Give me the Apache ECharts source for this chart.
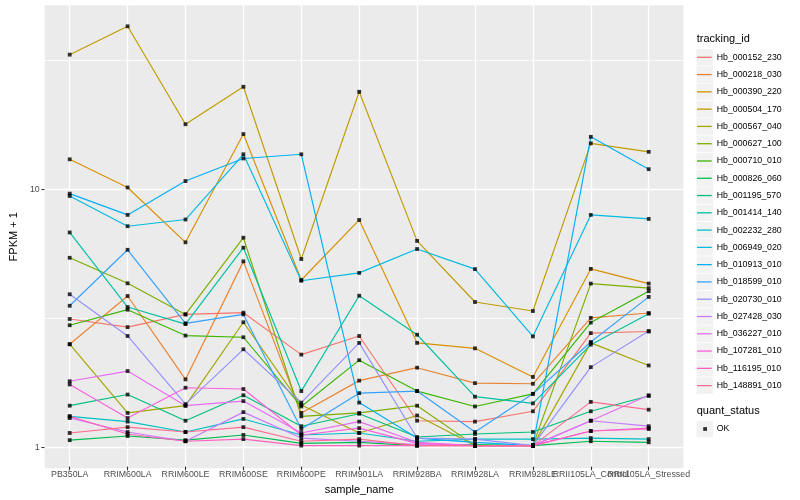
<!DOCTYPE html>
<html><head><meta charset="utf-8">
<script src="https://cdn.jsdelivr.net/npm/echarts@6/dist/echarts.min.js"></script>
<style>html,body{margin:0;padding:0;background:#fff}#c{width:800px;height:500px}</style>
</head><body><div id="c"></div>
<script>
const categories = ['PB350LA','RRIM600LA','RRIM600LE','RRIM600SE','RRIM600PE','RRIM901LA','RRIM928BA','RRIM928LA','RRIM928LE','RRII105LA_Control','RRII105LA_Stressed'];
const trackingIds = ['Hb_000152_230','Hb_000218_030','Hb_000390_220','Hb_000504_170','Hb_000567_040','Hb_000627_100','Hb_000710_010','Hb_000826_060','Hb_001195_570','Hb_001414_140','Hb_002232_280','Hb_006949_020','Hb_010913_010','Hb_018599_010','Hb_020730_010','Hb_027428_030','Hb_036227_010','Hb_107281_010','Hb_116195_010','Hb_148891_010'];
const yTickLabels = [1, 10];

const Hb_000152_230 = [3.11, 2.89, 3.24, 3.29, 2.26, 2.67, 1.25, 1.24, 1.36, 2.74, 2.78];
const Hb_000218_030 = [2.48, 3.82, 1.81, 5.21, 1.34, 1.79, 2.01, 1.75, 1.74, 3.14, 3.28];
const Hb_000390_220 = [13.0, 10.1, 6.18, 16.3, 4.41, 7.55, 2.51, 2.39, 1.85, 4.87, 4.27];
const Hb_000504_170 = [33.2, 42.8, 17.8, 24.9, 5.32, 23.8, 6.26, 3.62, 3.34, 15.0, 13.9];
const Hb_000567_040 = [2.48, 1.34, 1.43, 3.02, 1.44, 1.12, 1.31, 1.0, 1.0, 2.51, 2.05];
const Hb_000627_100 = [5.38, 4.28, 3.24, 6.44, 1.30, 1.34, 1.43, 1.0, 1.0, 4.27, 4.10];
const Hb_000710_010 = [2.94, 3.38, 2.68, 2.64, 1.42, 2.15, 1.63, 1.42, 1.59, 3.01, 3.99];
const Hb_000826_060 = [1.05, 1.09, 1.05, 1.10, 1.02, 1.03, 1.0, 1.01, 1.0, 1.04, 1.03];
const Hb_001195_570 = [1.43, 1.58, 1.25, 1.57, 1.19, 1.33, 1.08, 1.11, 1.13, 1.36, 1.56];
const Hb_001414_140 = [6.75, 3.46, 2.97, 5.89, 1.63, 3.83, 2.70, 1.55, 1.46, 2.47, 3.26];
const Hb_002232_280 = [1.30, 1.24, 1.13, 1.27, 1.10, 1.12, 1.04, 1.06, 1.06, 1.07, 1.06];
const Hb_006949_020 = [9.36, 7.14, 7.58, 13.6, 4.38, 4.70, 5.82, 4.86, 2.66, 7.90, 7.62];
const Hb_010913_010 = [9.56, 7.90, 10.7, 13.1, 13.6, 1.47, 1.07, 1.03, 1.0, 15.9, 11.9];
const Hb_018599_010 = [3.50, 5.78, 2.99, 3.24, 1.16, 1.60, 1.63, 1.13, 1.59, 2.53, 3.79];
const Hb_020730_010 = [3.88, 2.67, 1.45, 2.37, 1.47, 2.51, 1.07, 1.06, 1.0, 2.02, 2.79];
const Hb_027428_030 = [1.28, 1.13, 1.04, 1.35, 1.07, 1.04, 1.01, 1.0, 1.0, 1.25, 1.19];
const Hb_036227_010 = [1.78, 1.95, 1.43, 1.49, 1.12, 1.24, 1.03, 1.0, 1.0, 1.25, 1.57];
const Hb_107281_010 = [1.73, 1.28, 1.68, 1.66, 1.10, 1.17, 1.02, 1.0, 1.0, 1.14, 1.17];
const Hb_116195_010 = [1.30, 1.11, 1.04, 1.06, 1.0, 1.0, 1.0, 1.0, 1.0, 1.14, 1.16];
const Hb_148891_010 = [1.12, 1.18, 1.13, 1.18, 1.04, 1.06, 1.0, 1.0, 1.0, 1.48, 1.38];

const seriesValues = [Hb_000152_230, Hb_000218_030, Hb_000390_220, Hb_000504_170, Hb_000567_040, Hb_000627_100, Hb_000710_010, Hb_000826_060, Hb_001195_570, Hb_001414_140, Hb_002232_280, Hb_006949_020, Hb_010913_010, Hb_018599_010, Hb_020730_010, Hb_027428_030, Hb_036227_010, Hb_107281_010, Hb_116195_010, Hb_148891_010];

const colors = ['#F8766D','#EA8331','#D89000','#C09B00','#A3A500','#7CAE00','#39B600','#00BB4E','#00BF7D','#00C1A3','#00BFC4','#00BAE0','#00B0F6','#35A2FF','#9590FF','#C77CFF','#E76BF3','#FA62DB','#FF62BC','#FF6C91'];

const FONT = '"Liberation Sans", Arial, Helvetica, sans-serif';
const yMin = 0.8286, yMax = 51.66;
const keyTop = 48.66, keyStep = 17.28;

const chart = echarts.init(document.getElementById('c'));

const lineSeries = trackingIds.map((id, i) => ({
  name: id, type: 'line', xAxisIndex: 0, yAxisIndex: 0,
  data: seriesValues[i], color: colors[i],
  showSymbol: false, symbol: 'none', clip: false, silent: true, z: 3,
  lineStyle: { width: 1.15, color: colors[i] }
}));

const pts = [];
seriesValues.forEach(vals => vals.forEach((v, j) => pts.push([j, v])));

const keyBoxes = trackingIds.map((_, i) => ({
  type: 'rect', silent: true, z: 0,
  shape: { x: 696.5, y: keyTop + i * keyStep + 0.4, width: 16.6, height: 16.5 },
  style: { fill: '#F2F2F2' }
}));
keyBoxes.push({
  type: 'rect', silent: true, z: 0,
  shape: { x: 696.5, y: 429 - 8.64 + 0.4, width: 16.6, height: 16.5 },
  style: { fill: '#F2F2F2' }
});

chart.setOption({
  animation: false,
  backgroundColor: '#FFFFFF',
  textStyle: { fontFamily: FONT },
  title: [
    { text: 'tracking_id', left: 696.7, top: 33.5, padding: 0,
      textStyle: { fontSize: 11, fontWeight: 'normal', color: '#000', fontFamily: FONT } },
    { text: 'quant_status', left: 696.7, top: 405.5, padding: 0,
      textStyle: { fontSize: 11, fontWeight: 'normal', color: '#000', fontFamily: FONT } }
  ],
  graphic: keyBoxes,
  legend: [
    { data: trackingIds, orient: 'vertical', left: 697, top: keyTop, padding: 0, itemGap: 0,
      itemWidth: 14.7, itemHeight: 1.3, icon: 'rect', selectedMode: false,
      textStyle: { fontSize: 8.8, color: '#000', lineHeight: keyStep, fontFamily: FONT } },
    { data: ['OK'], orient: 'vertical', left: 703.2, top: 429 - 8.64, padding: 0, itemGap: 0,
      itemWidth: 3.8, itemHeight: 3.8, icon: 'rect', selectedMode: false,
      textStyle: { fontSize: 8.8, color: '#000', lineHeight: keyStep, padding: [0, 0, 0, 4.7], fontFamily: FONT } }
  ],
  grid: [
    { left: 69.7, right: 151.3, top: 5.3, bottom: 31.7 },
    { left: 35, right: 116.6, top: 5.3, bottom: 31.7, show: true, backgroundColor: '#EBEBEB', borderWidth: 0 }
  ],
  xAxis: [
    { gridIndex: 0, type: 'category', data: categories, boundaryGap: false,
      axisLine: { show: false },
      axisTick: { show: true, length: 3.7, lineStyle: { color: '#333333', width: 1.1 } },
      axisLabel: { interval: 0, margin: 3.5, fontSize: 8.8, color: '#4D4D4D', hideOverlap: false, fontFamily: FONT },
      splitLine: { show: true, lineStyle: { color: '#FFFFFF', width: 1.3 } },
      name: 'sample_name', nameLocation: 'middle', nameGap: 14,
      nameTextStyle: { fontSize: 11, color: '#000', fontFamily: FONT } },
    { gridIndex: 1, type: 'value', min: 0, max: 1, show: false }
  ],
  yAxis: [
    { gridIndex: 0, type: 'log', logBase: 10, min: yMin, max: yMax, show: false },
    { gridIndex: 1, type: 'log', logBase: 10, min: yMin, max: yMax,
      name: 'FPKM + 1', nameLocation: 'middle', nameGap: 16,
      nameTextStyle: { fontSize: 11, color: '#000', fontFamily: FONT },
      axisLine: { show: false },
      axisTick: { show: true, length: 3.3, customValues: yTickLabels, lineStyle: { color: '#333333', width: 1.1 } },
      axisLabel: { margin: 5, fontSize: 8.8, color: '#4D4D4D', fontFamily: FONT, customValues: yTickLabels,
        formatter: v => yTickLabels.some(t => Math.abs(v - t) < 1e-6 * t) ? String(Math.round(v)) : '' },
      splitLine: { show: false } }
  ],
  series: [
    { name: '_grid', type: 'line', xAxisIndex: 1, yAxisIndex: 1, data: [], silent: true, z: 1,
      markLine: { silent: true, z: 1, symbol: ['none', 'none'], label: { show: false },
        lineStyle: { color: '#FFFFFF', width: 0.8, type: 'solid' },
        data: [{ yAxis: Math.sqrt(10) }, { yAxis: 10 * Math.sqrt(10) }] } },
    { name: '_major', type: 'line', xAxisIndex: 1, yAxisIndex: 1, data: [], silent: true, z: 1,
      markLine: { silent: true, z: 1, symbol: ['none', 'none'], label: { show: false },
        lineStyle: { color: '#FFFFFF', width: 1.3, type: 'solid' },
        data: yTickLabels.map(t => ({ yAxis: t })) } },
    ...lineSeries,
    { name: 'OK', type: 'scatter', xAxisIndex: 0, yAxisIndex: 0, data: pts,
      symbol: 'rect', symbolSize: 3.8, itemStyle: { color: '#000' }, z: 5, silent: true, clip: false }
  ]
});
</script></body></html>
